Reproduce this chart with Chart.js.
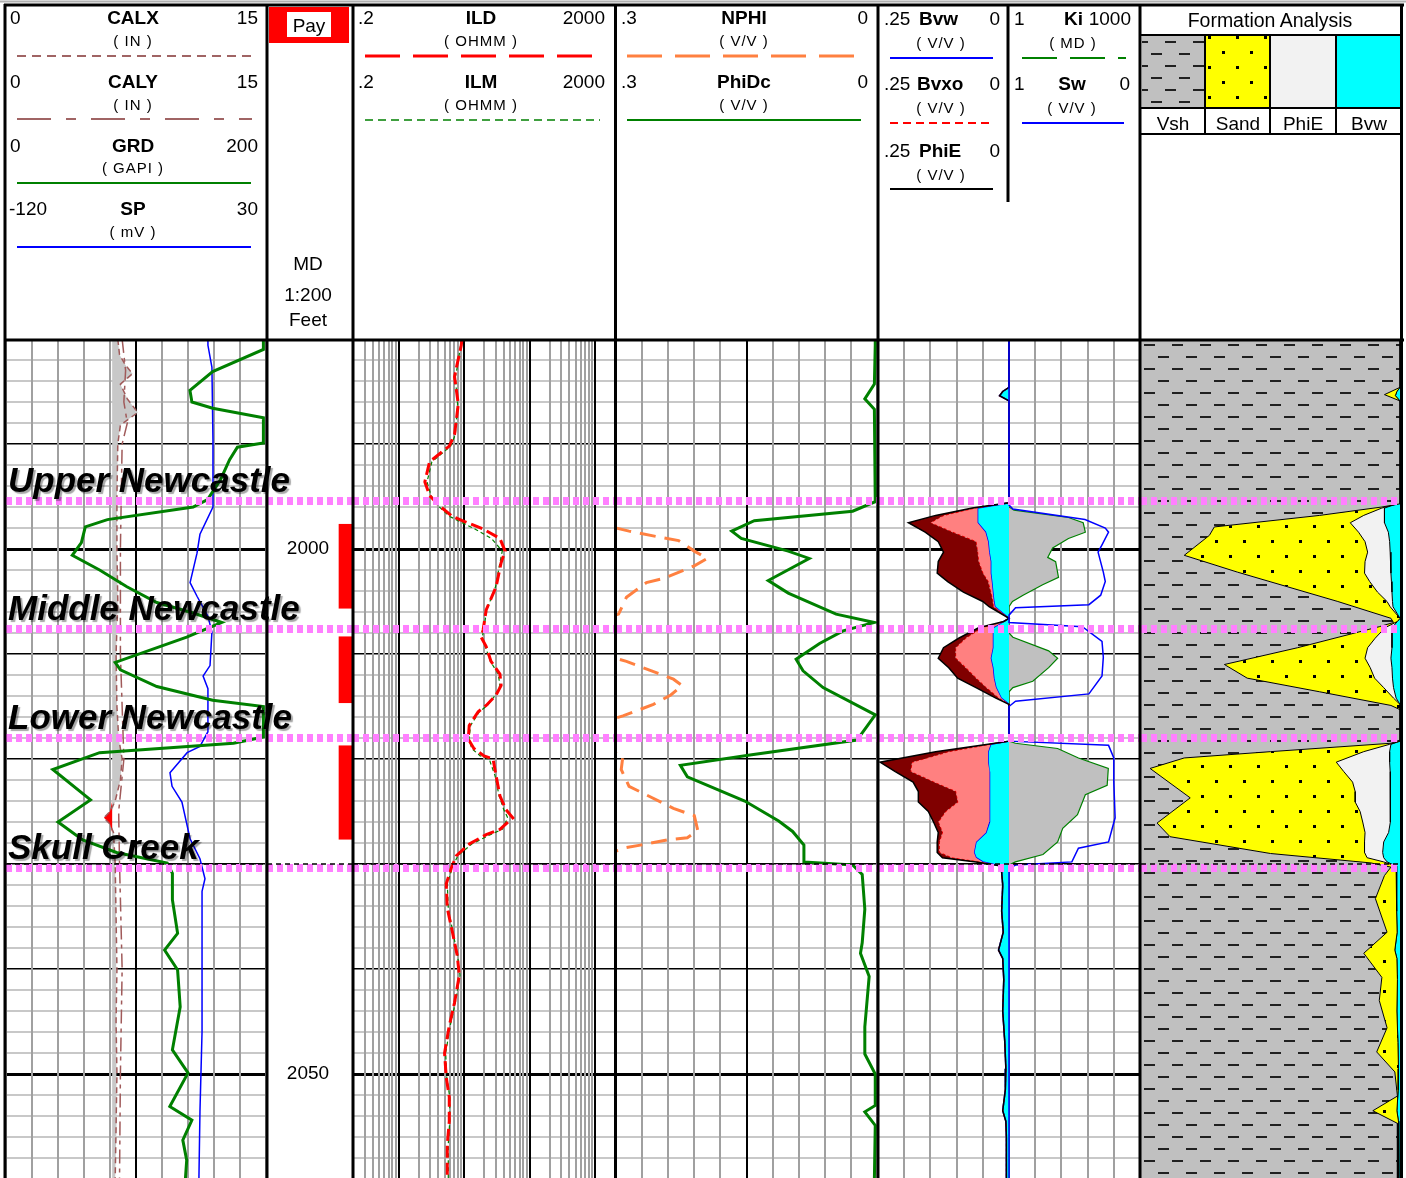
<!DOCTYPE html>
<html>
<head>
<meta charset="utf-8">
<title>Newcastle log</title>
<script src="https://cdn.jsdelivr.net/npm/chart.js@4.4.1/dist/chart.umd.min.js"></script>
<style>
  html, body { margin: 0; padding: 0; background: #fff; }
  body { position: relative; width: 1406px; height: 1178px; overflow: hidden; }
  canvas { position: absolute; top: 339px; }
  #frame { position: absolute; left: 0; top: 0; }
  #frame text { font-family: "Liberation Sans", Arial, sans-serif; fill: #000; }
  .n { font-size: 19px; }
  .b { font-size: 19px; font-weight: bold; }
  .u { font-size: 15px; letter-spacing: 1px; }
  .m { text-anchor: middle; }
  .e { text-anchor: end; }
</style>
</head>
<body>
<canvas id="depthTrack" width="86" height="840" style="left:267px"></canvas>
<canvas id="track1" width="347" height="840" style="left:6px"></canvas>
<canvas id="track3" width="262" height="840" style="left:353px"></canvas>
<canvas id="track4" width="261" height="840" style="left:616px"></canvas>
<canvas id="track5" width="262" height="840" style="left:878px"></canvas>
<canvas id="track6" width="259" height="840" style="left:1141px"></canvas>

<svg id="frame" width="1406" height="1178" xmlns="http://www.w3.org/2000/svg">
  <defs>
    <pattern id="shalePat" width="28" height="24" patternUnits="userSpaceOnUse">
      <rect width="28" height="24" fill="#c0c0c0"/>
      <rect x="3" y="5" width="11" height="2" fill="#202020"/>
      <rect x="17" y="17" width="11" height="2" fill="#202020"/>
    </pattern>
    <pattern id="sandPat" width="28" height="30" patternUnits="userSpaceOnUse">
      <rect width="28" height="30" fill="#ffff00"/>
      <rect x="4" y="6" width="3" height="3" fill="#000"/>
      <rect x="18" y="21" width="3" height="3" fill="#000"/>
    </pattern>
  </defs>

  <!-- track 1 header: calipers, gamma ray, SP -->
  <text class="n" x="10" y="24">0</text>
  <text class="b m" x="133" y="24">CALX</text>
  <text class="n e" x="258" y="24">15</text>
  <text class="u m" x="133" y="46">( IN )</text>
  <line x1="17" y1="56" x2="252" y2="56" stroke="#a06464" stroke-width="2" stroke-dasharray="9 6"/>
  <text class="n" x="10" y="88">0</text>
  <text class="b m" x="133" y="88">CALY</text>
  <text class="n e" x="258" y="88">15</text>
  <text class="u m" x="133" y="110">( IN )</text>
  <line x1="17" y1="119" x2="252" y2="119" stroke="#a06464" stroke-width="2" stroke-dasharray="34 15 10 15"/>
  <text class="n" x="10" y="152">0</text>
  <text class="b m" x="133" y="152">GRD</text>
  <text class="n e" x="258" y="152">200</text>
  <text class="u m" x="133" y="173">( GAPI )</text>
  <line x1="17" y1="183" x2="251" y2="183" stroke="#008000" stroke-width="2"/>
  <text class="n" x="9" y="215">-120</text>
  <text class="b m" x="133" y="215">SP</text>
  <text class="n e" x="258" y="215">30</text>
  <text class="u m" x="133" y="237">( mV )</text>
  <line x1="17" y1="247" x2="251" y2="247" stroke="#0000ff" stroke-width="2"/>

  <!-- depth track header -->
  <rect x="269" y="7" width="80" height="36" fill="#ff0000"/>
  <rect x="287" y="12" width="44" height="25" fill="#fff"/>
  <text class="n m" x="309" y="32">Pay</text>
  <text class="n m" x="308" y="270">MD</text>
  <text class="n m" x="308" y="301">1:200</text>
  <text class="n m" x="308" y="326">Feet</text>

  <!-- track 3 header: resistivity -->
  <text class="n" x="358" y="24">.2</text>
  <text class="b m" x="481" y="24">ILD</text>
  <text class="n e" x="605" y="24">2000</text>
  <text class="u m" x="481" y="46">( OHMM )</text>
  <line x1="365" y1="56" x2="597" y2="56" stroke="#ff0000" stroke-width="3" stroke-dasharray="35 13"/>
  <text class="n" x="358" y="88">.2</text>
  <text class="b m" x="481" y="88">ILM</text>
  <text class="n e" x="605" y="88">2000</text>
  <text class="u m" x="481" y="110">( OHMM )</text>
  <line x1="365" y1="120" x2="600" y2="120" stroke="#008000" stroke-width="1.5" stroke-dasharray="8 5"/>

  <!-- track 4 header: porosity -->
  <text class="n" x="621" y="24">.3</text>
  <text class="b m" x="744" y="24">NPHI</text>
  <text class="n e" x="868" y="24">0</text>
  <text class="u m" x="744" y="46">( V/V )</text>
  <line x1="627" y1="56" x2="860" y2="56" stroke="#ff8040" stroke-width="3" stroke-dasharray="35 13"/>
  <text class="n" x="621" y="88">.3</text>
  <text class="b m" x="744" y="88">PhiDc</text>
  <text class="n e" x="868" y="88">0</text>
  <text class="u m" x="744" y="110">( V/V )</text>
  <line x1="627" y1="120" x2="861" y2="120" stroke="#008000" stroke-width="2"/>

  <!-- track 5 header: bulk volumes, permeability, saturation -->
  <text class="n" x="884" y="25">.25</text>
  <text class="b" x="919" y="25">Bvw</text>
  <text class="n e" x="1000" y="25">0</text>
  <text class="u m" x="941" y="48">( V/V )</text>
  <line x1="890" y1="58" x2="993" y2="58" stroke="#0000ff" stroke-width="2"/>
  <text class="n" x="884" y="90">.25</text>
  <text class="b" x="917" y="90">Bvxo</text>
  <text class="n e" x="1000" y="90">0</text>
  <text class="u m" x="941" y="113">( V/V )</text>
  <line x1="890" y1="123" x2="989" y2="123" stroke="#ff0000" stroke-width="2" stroke-dasharray="8 5"/>
  <text class="n" x="884" y="157">.25</text>
  <text class="b" x="919" y="157">PhiE</text>
  <text class="n e" x="1000" y="157">0</text>
  <text class="u m" x="941" y="180">( V/V )</text>
  <line x1="890" y1="189" x2="993" y2="189" stroke="#000" stroke-width="2"/>
  <text class="n" x="1014" y="25">1</text>
  <text class="b e" x="1083" y="25">Ki</text>
  <text class="n e" x="1131" y="25">1000</text>
  <text class="u m" x="1073" y="48">( MD )</text>
  <line x1="1022" y1="58" x2="1126" y2="58" stroke="#008000" stroke-width="2" stroke-dasharray="35 13"/>
  <text class="n" x="1014" y="90">1</text>
  <text class="b m" x="1072" y="90">Sw</text>
  <text class="n e" x="1130" y="90">0</text>
  <text class="u m" x="1072" y="113">( V/V )</text>
  <line x1="1022" y1="123" x2="1124" y2="123" stroke="#0000ff" stroke-width="2"/>
  <line x1="1008" y1="5" x2="1008" y2="202" stroke="#000" stroke-width="3"/>

  <!-- track 6 header: formation analysis key -->
  <text class="n m" x="1270" y="27" style="font-size:19.5px">Formation Analysis</text>
  <rect x="1142" y="36" width="63" height="72" fill="url(#shalePat)"/>
  <rect x="1205" y="36" width="65" height="72" fill="url(#sandPat)"/>
  <rect x="1270" y="36" width="66" height="72" fill="#f2f2f2"/>
  <rect x="1336" y="36" width="65" height="72" fill="#00ffff"/>
  <line x1="1140" y1="35" x2="1402" y2="35" stroke="#000" stroke-width="2"/>
  <line x1="1140" y1="108" x2="1402" y2="108" stroke="#000" stroke-width="2"/>
  <line x1="1140" y1="134" x2="1402" y2="134" stroke="#000" stroke-width="2"/>
  <line x1="1205" y1="35" x2="1205" y2="134" stroke="#000" stroke-width="2"/>
  <line x1="1270" y1="35" x2="1270" y2="134" stroke="#000" stroke-width="2"/>
  <line x1="1336" y1="35" x2="1336" y2="134" stroke="#000" stroke-width="2"/>
  <text class="n m" x="1173" y="130">Vsh</text>
  <text class="n m" x="1238" y="130">Sand</text>
  <text class="n m" x="1303" y="130">PhiE</text>
  <text class="n m" x="1369" y="130">Bvw</text>

  <!-- track frame -->
  <line x1="0" y1="1.5" x2="1406" y2="1.5" stroke="#b0b0b0" stroke-width="2"/>
  <line x1="4" y1="5" x2="1404" y2="5" stroke="#000" stroke-width="3"/>
  <line x1="4" y1="340" x2="1404" y2="340" stroke="#000" stroke-width="3"/>
  <line x1="5" y1="4" x2="5" y2="1178" stroke="#000" stroke-width="3"/>
  <line x1="267" y1="4" x2="267" y2="1178" stroke="#000" stroke-width="3"/>
  <line x1="353" y1="4" x2="353" y2="1178" stroke="#000" stroke-width="3"/>
  <line x1="615.5" y1="4" x2="615.5" y2="1178" stroke="#000" stroke-width="3"/>
  <line x1="878" y1="4" x2="878" y2="1178" stroke="#000" stroke-width="3"/>
  <line x1="1140" y1="4" x2="1140" y2="1178" stroke="#000" stroke-width="3"/>
  <line x1="1401.5" y1="4" x2="1401.5" y2="1178" stroke="#000" stroke-width="3"/>
</svg>

<script>
// depth window shown on every track (feet, MD)
const DEPTH_TOP = 1980;
const DEPTH_BASE = 2060;

// formation tops and pay flags
const topNames = ['Upper Newcastle', 'Middle Newcastle', 'Lower Newcastle', 'Skull Creek'];
const topDepths = [1995.4, 2007.6, 2018.0, 2030.4];
const payTop = [1997.6, 2008.3, 2018.7];
const payBase = [2005.7, 2014.7, 2027.7];

// caliper bit size (in)
const bitSize = 6.125;

// gamma ray (GAPI)
const grDepth = [1980, 1980.6, 1981.0, 1983.1, 1984.9, 1986.0, 1986.6, 1987.5, 1989.9, 1990.3,
  1991.5, 1993.4, 1995.3, 1996.0, 1997.2, 1997.9, 1999.4, 2000.6, 2002.0, 2003.6,
  2005.1, 2006.1, 2007.0, 2008.4, 2010.8, 2011.5, 2013.1, 2014.4, 2015.0, 2017.9,
  2018.5, 2019.4, 2021.0, 2023.9, 2026.0, 2027.7, 2028.9, 2029.9, 2030.9, 2033.4,
  2036.6, 2038.2, 2040.1, 2043.6, 2047.7, 2049.9, 2053.1, 2054.4, 2056.3, 2058.2, 2060];
const grVal = [198, 198, 198, 159, 141.5, 143, 159, 198, 198, 178,
  172, 165, 155, 144, 78, 61, 58, 51, 72, 93,
  116, 144, 166, 139, 84, 88, 116, 159, 198, 198,
  175, 72, 36, 65, 40, 59, 85, 124, 128, 128,
  132, 122, 132, 134, 128, 140, 126, 143, 136, 139, 138];

// spontaneous potential (mV)
const spDepth = [1980, 1980.6, 1982.7, 1989.6, 1996.0, 1998.6, 2000.4, 2003.2, 2004.5, 2006.4,
  2007.9, 2011.1, 2012.1, 2013.3, 2017.4, 2018.8, 2019.4, 2021.3, 2022.6, 2024.1,
  2027.6, 2029.5, 2031.4, 2032.6, 2046.0, 2053.6, 2060];
const spVal = [-3.5, -3.5, -1.2, -0.6, -0.6, -8.1, -9.8, -13.8, -9.8, -3.5,
  -1.2, -2.3, -6.3, -3.5, -3.5, -8.1, -15.5, -25.4, -24.2, -18.5,
  -13.8, -8.1, -5.2, -6.9, -6.9, -8.1, -8.7];

// calipers (in)
const calxDepth = [1980, 1981.5, 1982.5, 1983.3, 1984.3, 1985.7, 1987.0, 1988.2, 1990, 1995,
  2000, 2005, 2010, 2015, 2018, 2020, 2022, 2024, 2025.0, 2025.6,
  2026.2, 2027, 2030, 2035, 2040, 2045, 2050, 2055, 2060];
const calxVal = [6.45, 6.55, 6.9, 7.3, 6.6, 7.0, 7.6, 6.6, 6.45, 6.4,
  6.4, 6.45, 6.35, 6.4, 6.5, 6.7, 6.6, 6.3, 6.0, 5.65,
  6.0, 6.2, 6.3, 6.35, 6.4, 6.35, 6.4, 6.35, 6.3];
const calyDepth = [1980, 1983, 1986, 1988, 1990, 2000, 2010, 2020, 2025, 2030, 2040, 2050, 2060];
const calyVal = [6.7, 6.9, 6.8, 7.0, 6.7, 6.6, 6.6, 6.8, 6.5, 6.55, 6.7, 6.6, 6.55];

// induction resistivity (ohmm)
const resDepth = [1980, 1980.6, 1982.7, 1983.6, 1986.2, 1989.1, 1990.2, 1991.7, 1993.6, 1994.9,
  1995.9, 1996.9, 1997.3, 1998.1, 1999.0, 2000.2, 2001.3, 2003.6, 2005.8, 2007.7,
  2008.4, 2009.3, 2010.7, 2011.9, 2013.0, 2013.9, 2014.9, 2015.5, 2016.8, 2018.1,
  2019.0, 2019.7, 2020.0, 2021.6, 2023.5, 2024.8, 2025.6, 2026.7, 2027.2, 2028.1,
  2029.2, 2030.3, 2031.9, 2034.2, 2036.5, 2038.7, 2040.6, 2043.2, 2045.4, 2048.0,
  2050.3, 2052.2, 2054.5, 2056.7, 2060];
const ildVal = [9.2, 9.0, 7.6, 7.1, 8.1, 7.1, 5.9, 2.95, 2.5, 2.95,
  4.2, 6.6, 9.3, 19.4, 35, 42, 36.5, 30.6, 21.6, 19.4,
  18.1, 21.6, 25.6, 35, 36.5, 30.6, 21.6, 16.3, 11.9, 11.5,
  14, 20, 27.5, 30.6, 35, 43, 55, 35, 21.6, 11.9,
  7.6, 6.4, 5.3, 5.5, 6.6, 7.8, 8.4, 7.1, 5.9, 5.0,
  5.3, 5.9, 5.9, 5.5, 5.5];
const ilmVal = [9.0, 8.8, 7.8, 7.3, 7.9, 7.3, 6.2, 3.2, 2.7, 3.1,
  4.0, 6.0, 8.0, 14.5, 26, 38, 35, 30, 22, 19.8,
  18.8, 21, 25, 33, 35, 30, 22.5, 17, 12.5, 11.8,
  13, 17.5, 24, 29.5, 34, 40, 46, 38, 25, 13,
  8.0, 6.6, 5.5, 5.7, 6.7, 7.9, 8.6, 7.3, 6.1, 5.2,
  5.4, 6.0, 6.0, 5.7, 5.7];

// neutron porosity (v/v)
const nphiDepth = [1980, 1990, 1996, 1997.6, 1998.3, 1998.9, 1999.2, 2000.2, 2000.9, 2001.6,
  2002.8, 2003.2, 2004.6, 2006.2, 2007.0, 2008.5, 2010.2, 2010.7, 2011.8, 2012.4,
  2013.0, 2013.9, 2014.8, 2015.9, 2016.8, 2018.5, 2019.7, 2021.0, 2022.6, 2023.3,
  2024.7, 2025.4, 2026.8, 2027.5, 2027.7, 2028.2, 2028.5, 2028.7, 2030, 2060];
const nphiVal = [0.38, 0.37, 0.36, 0.32, 0.285, 0.248, 0.228, 0.21, 0.195, 0.21,
  0.245, 0.265, 0.288, 0.297, 0.33, 0.34, 0.31, 0.288, 0.253, 0.234,
  0.224, 0.237, 0.257, 0.292, 0.33, 0.33, 0.292, 0.294, 0.285, 0.268,
  0.234, 0.21, 0.206, 0.218, 0.241, 0.272, 0.292, 0.297, 0.36, 0.37];

// corrected density porosity (v/v)
const phidDepth = [1980, 1980.6, 1984.3, 1985.7, 1986.7, 1995.5, 1996.4, 1997.3, 1998.3, 1999.0,
  2000.2, 2000.9, 2003.0, 2004.2, 2006.2, 2007.0, 2007.8, 2009.0, 2010.5, 2011.6,
  2013.2, 2015.8, 2018.2, 2019.6, 2020.6, 2021.7, 2024.0, 2025.9, 2026.9, 2028.2,
  2029.8, 2030.1, 2031.0, 2034.3, 2037.5, 2038.5, 2040.7, 2045.5, 2048.1, 2050.0,
  2053.0, 2053.6, 2054.9, 2060];
const phidVal = [0.002, 0.002, 0.003, 0.014, 0.003, 0.002, 0.028, 0.141, 0.167, 0.156,
  0.102, 0.078, 0.125, 0.102, 0.047, 0.003, 0.039, 0.066, 0.093, 0.085,
  0.062, 0.002, 0.023, 0.144, 0.226, 0.218, 0.152, 0.113, 0.097, 0.084,
  0.084, 0.028, 0.017, 0.014, 0.017, 0.019, 0.009, 0.014, 0.014, 0.002,
  0.002, 0.014, 0.002, 0.003];

// effective porosity, flushed-zone and bulk water volumes (v/v)
const petroDepth = [1980, 1984.6, 1985.0, 1985.4, 1985.9, 1995.6, 1996.1, 1996.8, 1997.5, 1998.4,
  1999.3, 2000.3, 2001.2, 2002.3, 2003.1, 2004.1, 2005.0, 2005.5, 2006.6, 2006.9,
  2007.5, 2008.5, 2009.4, 2010.4, 2011.3, 2012.3, 2013.2, 2014.2, 2014.8, 2018.3,
  2018.6, 2019.3, 2020.3, 2021.2, 2022.2, 2023.1, 2024.1, 2025.0, 2026.0, 2027.0,
  2027.9, 2028.9, 2029.4, 2029.8, 2030.2, 2032, 2034.5, 2036.5, 2038.2, 2039.0,
  2041, 2044, 2047, 2049.5, 2051.5, 2053.5, 2054.5, 2056, 2060];
const phieVal = [0, 0, 0.012, 0.018, 0, 0, 0.07, 0.14, 0.192, 0.16,
  0.135, 0.125, 0.135, 0.137, 0.117, 0.087, 0.05, 0.038, 0, 0.01,
  0.058, 0.096, 0.125, 0.135, 0.115, 0.098, 0.063, 0.025, 0, 0,
  0.04, 0.14, 0.246, 0.217, 0.183, 0.173, 0.173, 0.154, 0.144, 0.135,
  0.137, 0.137, 0.127, 0.063, 0.015, 0.012, 0.014, 0.011, 0.02, 0.012,
  0.01, 0.012, 0.008, 0.006, 0.007, 0.012, 0.006, 0.005, 0.005];
const bvxoVal = [0, 0, 0.012, 0.018, 0, 0, 0.065, 0.125, 0.15, 0.108,
  0.063, 0.06, 0.058, 0.05, 0.04, 0.035, 0.031, 0.03, 0, 0.01,
  0.052, 0.083, 0.102, 0.102, 0.083, 0.063, 0.044, 0.02, 0, 0,
  0.037, 0.115, 0.185, 0.188, 0.144, 0.102, 0.098, 0.121, 0.135, 0.127,
  0.133, 0.133, 0.11, 0.06, 0.015, 0.012, 0.014, 0.011, 0.02, 0.012,
  0.01, 0.012, 0.008, 0.006, 0.007, 0.012, 0.006, 0.005, 0.005];
const bvwVal = [0, 0, 0.012, 0.018, 0, 0, 0.06, 0.06, 0.06, 0.045,
  0.04, 0.038, 0.035, 0.035, 0.033, 0.031, 0.029, 0.027, 0, 0.01,
  0.031, 0.031, 0.031, 0.035, 0.031, 0.029, 0.025, 0.015, 0, 0,
  0.035, 0.04, 0.04, 0.038, 0.037, 0.037, 0.037, 0.037, 0.038, 0.044,
  0.063, 0.067, 0.063, 0.05, 0.015, 0.012, 0.014, 0.011, 0.02, 0.012,
  0.01, 0.012, 0.008, 0.006, 0.007, 0.012, 0.006, 0.005, 0.005];

// water saturation (v/v)
const swDepth = [1980, 1995.8, 1996.2, 1997.2, 1998.0, 1998.4, 1999.6, 2000.3, 2002.2, 2003.1,
  2004.4, 2005.3, 2005.6, 2006.3, 2007.0, 2007.4, 2008.8, 2010.3, 2012.1, 2013.8,
  2014.5, 2015.0, 2018.3, 2018.7, 2019.9, 2022.2, 2025.6, 2027.9, 2028.5, 2029.8,
  2030.1, 2030.4, 2060];
const swVal = [1, 1, 0.97, 0.42, 0.265, 0.24, 0.29, 0.32, 0.28, 0.265,
  0.30, 0.39, 0.95, 1, 1, 0.44, 0.29, 0.28, 0.29, 0.39,
  0.95, 1, 1, 0.24, 0.20, 0.20, 0.19, 0.24, 0.47, 0.52,
  0.95, 1, 1];

// permeability index (md)
const kiDepth = [1980, 1996.0, 1996.3, 1997.0, 1997.5, 1998.4, 1999.0, 1999.9, 2000.8, 2001.2,
  2002.7, 2003.4, 2004.4, 2005.0, 2005.5, 2008.0, 2008.4, 2009.7, 2010.4, 2011.3,
  2012.6, 2013.2, 2013.6, 2018.3, 2018.5, 2019.0, 2019.9, 2020.9, 2022.5, 2023.4,
  2025.3, 2026.6, 2027.9, 2029.1, 2029.8, 2030.1, 2060];
const kiVal = [1, 1, 1.3, 23, 50, 56, 23, 10, 7.7, 11.7,
  13.6, 5.9, 2.1, 1.2, 1, 1, 1.23, 8.1, 13, 8.1,
  3.5, 1.23, 1, 1, 1.4, 13, 39, 188, 177, 56,
  37, 17, 13, 6, 1.4, 1, 1];

// shale volume (v/v)
const vshDepth = [1980, 1984.6, 1985.3, 1985.9, 1995.7, 1996.0, 1996.8, 1997.9, 1998.7, 2000.6,
  2002.2, 2003.6, 2005.0, 2006.6, 2007.0, 2007.4, 2009.4, 2011.0, 2012.3, 2013.6,
  2014.9, 2015.3, 2018.2, 2018.5, 2019.3, 2019.9, 2020.9, 2023.7, 2026.1, 2027.4,
  2029.0, 2029.9, 2030.3, 2031.1, 2033.3, 2036.5, 2038.5, 2040.8, 2043.0, 2045.6,
  2047.9, 2049.8, 2052.1, 2053.5, 2054.7, 2060];
const vshVal = [1.0, 1.0, 0.94, 1.0, 1.0, 0.93, 0.69, 0.283, 0.264, 0.167,
  0.372, 0.566, 0.76, 0.965, 0.975, 0.92, 0.605, 0.322, 0.41, 0.69,
  0.965, 1.0, 1.0, 0.965, 0.5, 0.167, 0.035, 0.19, 0.062, 0.112,
  0.5, 0.888, 0.965, 0.94, 0.905, 0.95, 0.86, 0.93, 0.92, 0.95,
  0.91, 0.98, 0.99, 0.895, 0.99, 0.99];

// ---------------------------------------------------------------------------

const FONT = '"Liberation Sans", Arial, sans-serif';
const depthTicks = [];
for (let d = DEPTH_TOP; d <= DEPTH_BASE; d += 2) depthTicks.push(d);

function pts(depths, vals) {
  return depths.map((d, i) => ({x: vals[i], y: d}));
}

function tenths(min, max) {
  const out = [];
  for (let i = 0; i <= 10; i++) out.push(min + (max - min) * i / 10);
  return out;
}

const near = (a, b) => Math.abs(a - b) < 1e-9;

function depthAxis(withGrid) {
  return {
    type: 'linear', axis: 'y', reverse: true, min: DEPTH_TOP, max: DEPTH_BASE,
    afterFit: s => { s.width = 0; },
    afterBuildTicks: s => { s.ticks = depthTicks.map(v => ({value: v})); },
    ticks: {display: false},
    border: {display: false},
    grid: {
      display: withGrid, drawTicks: false,
      color: c => (c.tick && c.tick.value % 10 === 0 ? '#000' : '#c8c8c8'),
      lineWidth: c => (!c.tick ? 1 : c.tick.value % 50 === 0 ? 3 : c.tick.value % 10 === 0 ? 1.5 : 2)
    }
  };
}

function valueAxis(type, min, max, extra) {
  return Object.assign({
    type: type, axis: 'x', position: 'top', min: min, max: max,
    afterFit: s => { s.height = 0; },
    ticks: {display: false},
    border: {display: false},
    grid: {display: false, drawTicks: false}
  }, extra || {});
}

function gridded(values, isDark, extra) {
  return Object.assign({
    afterBuildTicks: s => { s.ticks = values.map(v => ({value: v})); },
    grid: {
      display: true, drawTicks: false,
      color: c => (c.tick && isDark(c.tick.value) ? '#000' : '#a0a0a0'),
      lineWidth: 2
    }
  }, extra || {});
}

// pink dotted formation tops, names written in the first track
const topsPlugin = {
  id: 'tops',
  afterDatasetsDraw(chart, args, opts) {
    const {ctx, chartArea} = chart;
    const yScale = chart.scales.y;
    ctx.save();
    topDepths.forEach((d, i) => {
      const py = Math.round(yScale.getPixelForValue(d));
      ctx.setLineDash([6, 4]);
      ctx.lineWidth = 8;
      ctx.strokeStyle = '#ff80ff';
      ctx.beginPath();
      ctx.moveTo(chartArea.left, py);
      ctx.lineTo(chartArea.right, py);
      ctx.stroke();
      if (topNames[i] === 'Skull Creek') {
        ctx.setLineDash([5, 4]);
        ctx.lineWidth = 1.5;
        ctx.strokeStyle = '#000';
        ctx.beginPath();
        ctx.moveTo(chartArea.left, py - 4);
        ctx.lineTo(chartArea.right, py - 4);
        ctx.stroke();
      }
    });
    if (opts && opts.names) {
      ctx.setLineDash([]);
      ctx.font = 'italic bold 35px ' + FONT;
      ctx.textBaseline = 'alphabetic';
      ctx.fillStyle = '#000';
      ctx.shadowColor = 'rgba(0,0,0,0.35)';
      ctx.shadowOffsetX = 2;
      ctx.shadowOffsetY = 2;
      ctx.shadowBlur = 1;
      topDepths.forEach((d, i) => {
        const py = yScale.getPixelForValue(d);
        ctx.fillText(topNames[i], chartArea.left + 2, py - 9);
      });
    }
    ctx.restore();
  }
};

// depth numbers every 50 ft in the depth track
const depthLabels = {
  id: 'depthLabels',
  afterDatasetsDraw(chart) {
    const {ctx, chartArea} = chart;
    const yScale = chart.scales.y;
    ctx.save();
    ctx.font = '19px ' + FONT;
    ctx.fillStyle = '#000';
    ctx.textAlign = 'center';
    ctx.textBaseline = 'middle';
    yScale.ticks.forEach(t => {
      if (t.value % 50 === 0) {
        ctx.fillText(String(t.value), (chartArea.left + chartArea.right) / 2 - 2, yScale.getPixelForValue(t.value));
      }
    });
    ctx.restore();
  }
};

function trackOptions(scales, opts) {
  opts = opts || {};
  return {
    responsive: false,
    animation: false,
    devicePixelRatio: 1,
    indexAxis: 'y',
    layout: {padding: opts.padding || 0},
    plugins: {
      legend: {display: false},
      tooltip: {enabled: false},
      tops: {names: !!opts.names}
    },
    elements: {point: {radius: 0, hoverRadius: 0}, line: {tension: 0}},
    scales: Object.assign({y: depthAxis(opts.grid !== false)}, scales)
  };
}

function line(data, axis, color, width, dash, extra) {
  return Object.assign({
    data: data, xAxisID: axis, borderColor: color, borderWidth: width,
    borderDash: dash || [], fill: false, pointRadius: 0
  }, extra || {});
}

function makePattern(w, h, paint) {
  const c = document.createElement('canvas');
  c.width = w; c.height = h;
  paint(c.getContext('2d'));
  return c.getContext('2d').createPattern(c, 'repeat');
}

const shaleFill = makePattern(28, 24, g => {
  g.fillStyle = '#c0c0c0'; g.fillRect(0, 0, 28, 24);
  g.fillStyle = '#202020';
  g.fillRect(3, 5, 11, 2); g.fillRect(17, 17, 11, 2);
});
const sandFill = makePattern(28, 30, g => {
  g.fillStyle = '#ffff00'; g.fillRect(0, 0, 28, 30);
  g.fillStyle = '#000';
  g.fillRect(4, 6, 3, 3); g.fillRect(18, 21, 3, 3);
});

// ---- track 1: GR, SP, calipers
new Chart(document.getElementById('track1'), {
  type: 'line',
  data: {datasets: [
    line(pts(grDepth, grVal), 'x', '#008000', 3),
    line(pts(spDepth, spVal), 'xSp', '#0000ff', 1.5),
    line(pts(calxDepth, calxVal), 'xCal', '#a05a5a', 1.5, [6, 4]),
    line(pts(calyDepth, calyVal), 'xCal', '#a05a5a', 1.5, [14, 5, 4, 5]),
    line(pts(calxDepth, calxVal.map(v => Math.max(v, bitSize))), 'xCal', 'transparent', 0, null,
      {fill: {value: bitSize}, backgroundColor: '#c8c8c8'}),
    line(pts(calxDepth, calxVal.map(v => Math.min(v, bitSize))), 'xCal', 'transparent', 0, null,
      {fill: {value: bitSize}, backgroundColor: '#ff0000'})
  ]},
  options: trackOptions({
    x: valueAxis('linear', 0, 200, gridded(tenths(0, 200), v => near(v, 100))),
    xCal: valueAxis('linear', 0, 15, {display: false}),
    xSp: valueAxis('linear', -120, 30, {display: false})
  }, {names: true, padding: {left: 0, top: 0, bottom: 0, right: 87}}),
  plugins: [topsPlugin]
});

// ---- depth track: pay flags
new Chart(document.getElementById('depthTrack'), {
  type: 'line',
  data: {datasets: payTop.map((t, i) => line([{x: 1, y: t}, {x: 1, y: payBase[i]}], 'x', 'transparent', 0, null,
    {fill: {value: 0}, backgroundColor: '#ff0000'}))},
  options: trackOptions({
    x: valueAxis('linear', 0, 6, {display: false, reverse: true})
  }, {grid: false}),
  plugins: [depthLabels, topsPlugin]
});

// ---- track 3: resistivity (log)
const resGrid = [];
[0.1, 1, 10, 100, 1000].forEach(dec => {
  for (let k = 1; k <= 9; k++) {
    const v = +(k * dec).toPrecision(3);
    if (v >= 0.2 && v <= 2000) resGrid.push(v);
  }
});
new Chart(document.getElementById('track3'), {
  type: 'line',
  data: {datasets: [
    line(pts(resDepth, ildVal), 'x', '#ff0000', 3, [12, 5]),
    line(pts(resDepth, ilmVal), 'x', '#008000', 1.2, [4, 3])
  ]},
  options: trackOptions({
    x: valueAxis('logarithmic', 0.2, 2000, gridded(resGrid, v => [1, 10, 100, 1000].some(p => near(v, p))))
  }),
  plugins: [topsPlugin]
});

// ---- track 4: neutron / density porosity
new Chart(document.getElementById('track4'), {
  type: 'line',
  data: {datasets: [
    line(pts(phidDepth, phidVal), 'x', '#008000', 3),
    line(pts(nphiDepth, nphiVal), 'x', '#ff8040', 3, [16, 9])
  ]},
  options: trackOptions({
    x: valueAxis('linear', 0, 0.3, gridded(tenths(0, 0.3), v => near(v, 0.15), {reverse: true}))
  }),
  plugins: [topsPlugin]
});

// ---- track 5: PhiE / Bvxo / Bvw (left half), Sw and Ki (right half)
new Chart(document.getElementById('track5'), {
  type: 'line',
  data: {datasets: [
    line(pts(swDepth, swVal), 'xS', '#0000ff', 1.5),
    line(pts(petroDepth, phieVal), 'xL', '#000', 1.5, null, {fill: 2, backgroundColor: '#800000'}),
    line(pts(petroDepth, bvxoVal), 'xL', '#ff0000', 1.2, [3, 2], {fill: 3, backgroundColor: '#ff8080'}),
    line(pts(petroDepth, bvwVal), 'xL', '#0000ff', 1.5, null, {fill: {value: 0}, backgroundColor: '#00ffff'}),
    line(pts(kiDepth, kiVal), 'xK', '#008000', 1.2, null, {fill: {value: 1}, backgroundColor: '#c0c0c0'})
  ]},
  options: trackOptions({
    xL: valueAxis('linear', -0.25, 0.25, gridded(tenths(-0.25, 0.25), () => false, {reverse: true})),
    xS: valueAxis('linear', 0, 2, {display: false, reverse: true}),
    xK: valueAxis('logarithmic', 0.001, 1000, {display: false})
  }),
  plugins: [topsPlugin]
});

// ---- track 6: formation analysis (shale, sand, porosity, water)
new Chart(document.getElementById('track6'), {
  type: 'line',
  data: {datasets: [
    line(pts(vshDepth, vshVal), 'x', '#000', 1, null, {fill: {value: 0}, backgroundColor: shaleFill}),
    line(pts(petroDepth, phieVal.map(v => 1 - v)), 'x', '#000', 1, null, {fill: 0, backgroundColor: sandFill}),
    line(pts(petroDepth, bvwVal.map(v => 1 - v)), 'x', '#000', 1, null, {fill: 1, backgroundColor: '#f2f2f2'}),
    line(pts(petroDepth, bvwVal.map(v => 1 - v)), 'x', 'transparent', 0, null, {fill: {value: 1}, backgroundColor: '#00ffff'})
  ]},
  options: trackOptions({
    x: valueAxis('linear', 0, 1)
  }, {grid: false}),
  plugins: [topsPlugin]
});
</script>
</body>
</html>
